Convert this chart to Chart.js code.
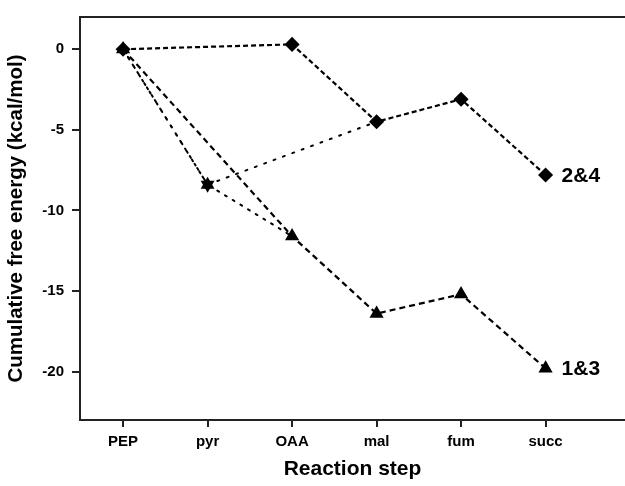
<!DOCTYPE html>
<html>
<head>
<meta charset="utf-8">
<script src="https://cdn.jsdelivr.net/npm/chart.js@4/dist/chart.umd.min.js"></script>
<style>
html,body{margin:0;padding:0;background:#fff;overflow:hidden;}
#wrap{width:625px;height:486px;}
</style>
</head>
<body>
<div id="wrap"><canvas id="c"></canvas></div>
<script>
const categories = ["PEP", "pyr", "OAA", "mal", "fum", "succ"];
const yTicks = [0, -5, -10, -15, -20];
// Pathway via OAA (upper branch, ends "2&4")
const pathUpperOAA = [0, null, 0.3, -4.5, -3.1, -7.8];
// Pathway via pyr to mal (joins upper branch)
const pathPyrMal = [0, -8.4, null, -4.5, null, null];
// Pathway via OAA (lower branch, ends "1&3")
const pathLowerOAA = [0, null, -11.6, -16.4, -15.2, -19.8];
// Pathway via pyr to OAA (joins lower branch)
const pathPyrOAA = [0, -8.4, -11.6, null, null, null];
const endLabels = ["2&4", "1&3"];

function toXY(arr) {
  const out = [];
  arr.forEach((v, i) => { if (v !== null) out.push({x: i, y: v}); });
  return out;
}

const FONT = "'Liberation Sans', Arial, sans-serif";

const topBorder = {
  id: 'topBorder',
  afterDraw(chart) {
    const {ctx, chartArea} = chart;
    ctx.save();
    ctx.strokeStyle = '#222';
    ctx.lineWidth = 2;
    ctx.beginPath();
    ctx.moveTo(chartArea.left - 1, chartArea.top);
    ctx.lineTo(chartArea.right, chartArea.top);
    ctx.stroke();
    // end labels
    const xs = chart.scales.x, ys = chart.scales.y;
    ctx.fillStyle = '#000';
    ctx.font = "bold 21px " + FONT;
    ctx.textBaseline = 'middle';
    ctx.textAlign = 'left';
    const lastU = pathUpperOAA[pathUpperOAA.length - 1];
    const lastL = pathLowerOAA[pathLowerOAA.length - 1];
    const li = categories.length - 1;
    ctx.fillText(endLabels[0], xs.getPixelForValue(li) + 16, ys.getPixelForValue(lastU) + 1);
    ctx.fillText(endLabels[1], xs.getPixelForValue(li) + 16, ys.getPixelForValue(lastL) + 1);
    ctx.restore();
  }
};

new Chart(document.getElementById('c'), {
  type: 'line',
  data: {
    datasets: [
      {
        data: toXY(pathPyrOAA),
        borderColor: '#000', backgroundColor: '#000',
        borderWidth: 2, borderDash: [2, 7], borderCapStyle: 'round',
        pointStyle: 'triangle', pointRadius: [0, 6, 0], pointHoverRadius: 0,
        fill: false, tension: 0
      },
      {
        data: toXY(pathPyrMal),
        borderColor: '#000', backgroundColor: '#000',
        borderWidth: 2, borderDash: [2, 8], borderCapStyle: 'round',
        pointStyle: 'triangle', rotation: 180, pointRadius: [0, 6, 0], pointHoverRadius: 0,
        fill: false, tension: 0
      },
      {
        data: toXY(pathUpperOAA),
        borderColor: '#000', backgroundColor: '#000',
        borderWidth: 2.2, borderDash: [5, 3],
        pointStyle: 'rectRot', pointRadius: 6, pointHoverRadius: 6,
        fill: false, tension: 0
      },
      {
        data: toXY(pathLowerOAA),
        borderColor: '#000', backgroundColor: '#000',
        borderWidth: 2.2, borderDash: [6, 4],
        pointStyle: 'triangle', pointRadius: 6, pointHoverRadius: 6,
        fill: false, tension: 0
      }
    ]
  },
  options: {
    responsive: true,
    maintainAspectRatio: false,
    animation: false,
    layout: {autoPadding: false, padding: {top: 11, right: 0, left: 0, bottom: 0}},
    plugins: {legend: {display: false}, tooltip: {enabled: false}},
    scales: {
      x: {
        type: 'linear', min: -0.51, max: 5.94,
        afterBuildTicks(s) { s.ticks = categories.map((c, i) => ({value: i})); },
        afterFit(s) { s.height = 66; },
        ticks: {
          color: '#000', padding: 6,
          font: {family: FONT, size: 15, weight: 'bold'},
          callback: (v) => categories[v] !== undefined ? categories[v] : ''
        },
        grid: {drawOnChartArea: false, drawTicks: true, tickLength: 7, color: '#222', lineWidth: 2},
        border: {display: true, color: '#222', width: 2},
        title: {display: true, text: 'Reaction step', color: '#000', padding: {top: 1},
                font: {family: FONT, size: 21, weight: 'bold'}}
      },
      y: {
        type: 'linear', min: -23, max: 2,
        afterBuildTicks(s) { s.ticks = yTicks.map(v => ({value: v})); },
        afterFit(s) { s.width = 80; },
        ticks: {
          color: '#000', padding: 8,
          font: {family: FONT, size: 15, weight: 'bold'}
        },
        grid: {drawOnChartArea: false, drawTicks: true, tickLength: 8, color: '#222', lineWidth: 2},
        border: {display: true, color: '#222', width: 2},
        title: {display: true, text: 'Cumulative free energy (kcal/mol)', color: '#000', padding: {bottom: 2},
                font: {family: FONT, size: 20.5, weight: 'bold'}}
      }
    }
  },
  plugins: [topBorder]
});
</script>
</body>
</html>
